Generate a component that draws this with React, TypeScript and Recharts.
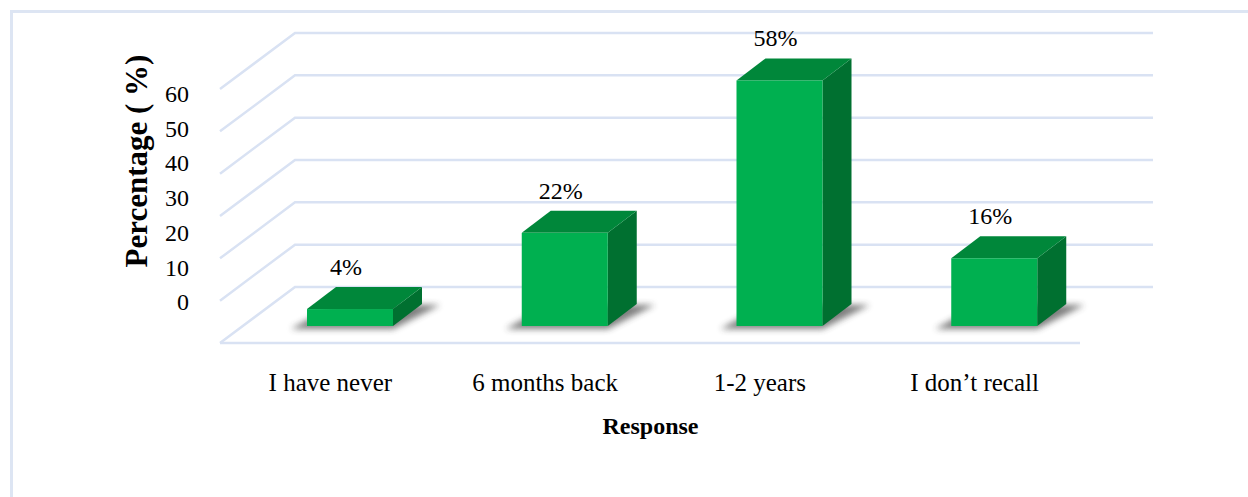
import React from 'react';
import { BarChart, Bar, XAxis, YAxis, CartesianGrid, LabelList, Label, ReferenceLine } from 'recharts';

const responses = ['I have never', '6 months back', '1-2 years', 'I don\u2019t recall'];
const percentages = [4, 22, 58, 16];
const yTicks = [0, 10, 20, 30, 40, 50, 60];

const chartData = responses.map((response, i) => ({ response, value: percentages[i] }));

const FONT = "'Liberation Serif', 'Times New Roman', serif";
const GRID = '#d9e2f3';

// perspective: back wall and front floor edge relative to the bar fronts
const BACK_DX = 52;
const BACK_DY = -39;
const FRONT_DX = -23;
const FRONT_DY = 17;
const RIGHT_BACK = 51;
// depth of each box
const DEPTH_X = 29;
const DEPTH_Y = 22;

const FRONT = '#00b050';
const TOP = '#00873a';
const SIDE = '#007030';

const renderGridLine = (props: any) => {
  const { x1, x2, y1, index } = props;
  const pts = [
    `${x1 + FRONT_DX},${y1 + FRONT_DY}`,
    `${x1 + BACK_DX},${y1 + BACK_DY}`,
    `${x2 + RIGHT_BACK},${y1 + BACK_DY}`,
  ].join(' ');
  return <polyline key={`grid-${index}`} points={pts} fill="none" stroke={GRID} strokeWidth={2.5} />;
};

const FloorEdge = (props: any) => {
  const { x1, x2, y1 } = props;
  return (
    <line
      x1={x1 + FRONT_DX}
      y1={y1 + FRONT_DY}
      x2={x2 + FRONT_DX + 1}
      y2={y1 + FRONT_DY}
      stroke={GRID}
      strokeWidth={2.5}
    />
  );
};

const Box3D = (props: any) => {
  const { x, y, width: w, height: h, index } = props;
  const base = y + h;
  const fid = `box-shadow-${index}`;
  const shadow = [
    `${x - 16},${base + 3}`,
    `${x + w},${base + 3}`,
    `${x + w + DEPTH_X + 18},${base - DEPTH_Y + 1}`,
    `${x + DEPTH_X},${base - DEPTH_Y}`,
  ].join(' ');
  const top = [
    `${x},${y}`,
    `${x + DEPTH_X},${y - DEPTH_Y}`,
    `${x + w + DEPTH_X},${y - DEPTH_Y}`,
    `${x + w},${y}`,
  ].join(' ');
  const side = [
    `${x + w},${y}`,
    `${x + w + DEPTH_X},${y - DEPTH_Y}`,
    `${x + w + DEPTH_X},${base - DEPTH_Y}`,
    `${x + w},${base}`,
  ].join(' ');
  return (
    <g>
      <defs>
        <filter id={fid} x="-30%" y="-100%" width="160%" height="300%">
          <feGaussianBlur stdDeviation={3} />
        </filter>
      </defs>
      <polygon points={shadow} fill="#3a3a3a" opacity={0.65} filter={`url(#${fid})`} />
      <polygon points={side} fill={SIDE} />
      <polygon points={top} fill={TOP} />
      <rect x={x} y={y} width={w} height={h} fill={FRONT} />
    </g>
  );
};

const ValueLabel = (props: any) => {
  const { x, y, width, value } = props;
  return (
    <text x={x + width / 2 - 4} y={y - 34} textAnchor="middle" fontFamily={FONT} fontSize={24} fill="#000">
      {`${value}%`}
    </text>
  );
};

const CategoryTick = ({ x, y, payload }: any) => (
  <text x={x - 20} y={y + 65} textAnchor="middle" fontFamily={FONT} fontSize={25} fill="#000">
    {payload.value}
  </text>
);

// tick labels sit on the slanted left wall, so they are spaced a bit tighter than the bars' scale
const PercentTick = ({ y, payload }: any) => (
  <text x={189} y={34.4 + 0.821 * y} dy="0.35em" textAnchor="end" fontFamily={FONT} fontSize={24} fill="#000">
    {payload.value}
  </text>
);

const YTitle = ({ viewBox }: any) => {
  const cx = viewBox.x + 147;
  const cy = viewBox.y + viewBox.height / 2 - 38;
  return (
    <text
      x={cx}
      y={cy}
      transform={`rotate(-90 ${cx} ${cy})`}
      textAnchor="middle"
      fontFamily={FONT}
      fontSize={31}
      fontWeight="bold"
      fill="#000"
    >
      Percentage ( %)
    </text>
  );
};

const XTitle = ({ viewBox }: any) => (
  <text
    x={viewBox.x + viewBox.width / 2 - 22}
    y={viewBox.y + 108}
    textAnchor="middle"
    fontFamily={FONT}
    fontSize={24}
    fontWeight="bold"
    fill="#000"
  >
    Response
  </text>
);

export default function App() {
  return (
    <div style={{ position: 'absolute', left: 0, top: 0, width: 1248, height: 497, background: '#fff', overflow: 'hidden' }}>
      <div
        style={{
          position: 'absolute',
          left: 10,
          top: 10,
          width: 1300,
          height: 560,
          borderTop: '3px solid #dde5f3',
          borderLeft: '3px solid #dde5f3',
        }}
      />
      <div style={{ position: 'absolute', left: 0, top: 0 }}>
        <BarChart width={1248} height={497} data={chartData} margin={{ top: 72, right: 146, bottom: 0, left: 0 }} barSize={86}>
          <CartesianGrid vertical={false} horizontal={renderGridLine} />
          <ReferenceLine y={0} shape={<FloorEdge />} />
          <XAxis dataKey="response" height={171} axisLine={false} tickLine={false} tickSize={0} tickMargin={0} tick={<CategoryTick />} interval={0}>
            <Label content={<XTitle />} />
          </XAxis>
          <YAxis domain={[0, 60]} ticks={yTicks} width={243} axisLine={false} tickLine={false} tick={<PercentTick />}>
            <Label content={<YTitle />} />
          </YAxis>
          <Bar dataKey="value" shape={<Box3D />} isAnimationActive={false}>
            <LabelList dataKey="value" content={<ValueLabel />} />
          </Bar>
        </BarChart>
      </div>
    </div>
  );
}
